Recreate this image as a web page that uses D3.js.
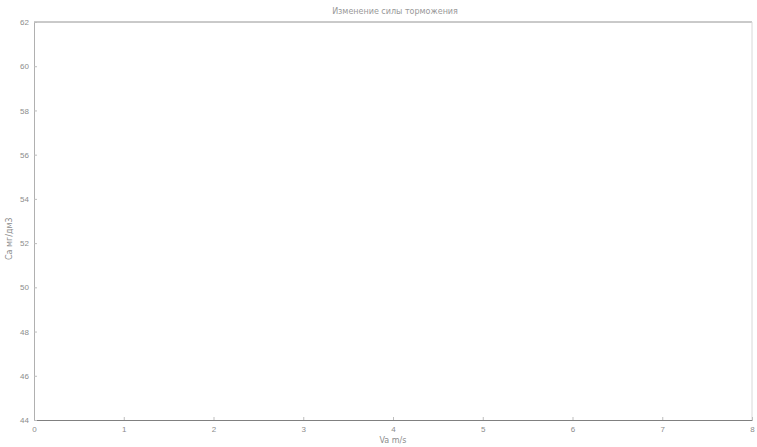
<!DOCTYPE html>
<html>
<head>
<meta charset="utf-8">
<script src="https://cdn.jsdelivr.net/npm/d3@7"></script>
<style>
  body { margin: 0; background: #fff; }
  svg { display: block; font-family: "DejaVu Sans", sans-serif; }
</style>
</head>
<body>
<div class="chart"></div>
<script>
// --- data ---
const xTicks = [0, 1, 2, 3, 4, 5, 6, 7, 8];
const yTicks = [44, 46, 48, 50, 52, 54, 56, 58, 60, 62];
const xDomain = [0, 8];
const yDomain = [44, 62];
const titleText = "Изменение силы торможения";
const xLabel = "Va m/s";
const yLabel = "Ca мг/дм3";

const W = 757, H = 447;
const margin = { top: 22, right: 5, bottom: 27, left: 34 };

const svg = d3.select(".chart").append("svg")
    .attr("width", W)
    .attr("height", H);

const x = d3.scaleLinear().domain(xDomain).range([margin.left, W - margin.right]);
const y = d3.scaleLinear().domain(yDomain).range([H - margin.bottom, margin.top]);

// frame: top edge mid grey, right edge very faint
svg.append("line")
    .attr("x1", x(xDomain[0])).attr("x2", x(xDomain[1]))
    .attr("y1", y(yDomain[1])).attr("y2", y(yDomain[1]))
    .attr("stroke", "#949494").attr("stroke-width", 1);
svg.append("line")
    .attr("x1", x(xDomain[1])).attr("x2", x(xDomain[1]))
    .attr("y1", y(yDomain[0])).attr("y2", y(yDomain[1]))
    .attr("stroke", "#d8d8d8").attr("stroke-width", 1);

// axes
const gx = svg.append("g")
    .attr("transform", `translate(0,${y(yDomain[0])})`)
    .call(d3.axisBottom(x).tickValues(xTicks).tickSizeInner(-3).tickSizeOuter(0).tickPadding(6));
const gy = svg.append("g")
    .attr("transform", `translate(${x(xDomain[0])},0)`)
    .call(d3.axisLeft(y).tickValues(yTicks).tickSizeInner(-3).tickSizeOuter(0).tickPadding(5));

gx.select(".domain").attr("stroke", "#808080").attr("stroke-width", 1.2);
gy.select(".domain").attr("stroke", "#b0b0b0");
[gx, gy].forEach(g => {
    g.selectAll(".tick line").attr("stroke", "#bdbdbd");
    g.selectAll(".tick text")
        .attr("fill", "#8c8c8c")
        .style("font-size", "8px");
});

// title and axis labels
svg.append("text")
    .attr("x", 395).attr("y", 14)
    .attr("text-anchor", "middle")
    .attr("fill", "#999")
    .style("font-size", "8px")
    .text(titleText);

svg.append("text")
    .attr("x", x(4)).attr("y", 443)
    .attr("text-anchor", "middle")
    .attr("fill", "#8c8c8c")
    .style("font-size", "8px")
    .text(xLabel);

svg.append("text")
    .attr("transform", `translate(12,${y(52.2)}) rotate(-90)`)
    .attr("text-anchor", "middle")
    .attr("fill", "#8c8c8c")
    .style("font-size", "8px")
    .text(yLabel);
</script>
</body>
</html>
